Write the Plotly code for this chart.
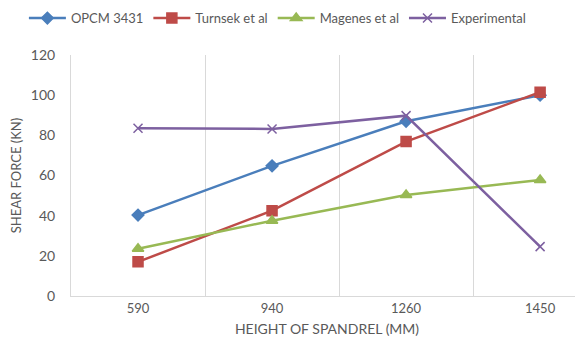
import plotly.graph_objects as go

categories = ["590", "940", "1260", "1450"]
opcm = [40.3, 64.8, 87.0, 100.0]
turnsek = [17.0, 42.5, 76.9, 101.5]
magenes = [23.5, 37.5, 50.3, 57.8]
experimental = [83.5, 83.2, 89.8, 24.6]

series = [
    ("OPCM 3431", opcm, "#4a7ebb", "diamond", 9),
    ("Turnsek et al", turnsek, "#be4b48", "square", 10),
    ("Magenes et al", magenes, "#98b954", "triangle-up", 10),
    ("Experimental", experimental, "#7d60a0", "x-thin-open", 9),
]

fig = go.Figure()
for name, vals, color, sym, size in series:
    fig.add_trace(go.Scatter(
        x=categories, y=vals, name=name, mode="lines+markers",
        line=dict(color=color, width=2.5),
        marker=dict(symbol=sym, size=size, color=color,
                    line=dict(color=color, width=1.5)),
    ))

font_family = "Lato, 'Open Sans', sans-serif"
# page body has an 8px margin; figure is sized so the picture lines up
fig.update_layout(
    width=575, height=339,
    margin=dict(l=63, r=0, t=47, b=51, autoexpand=False),
    paper_bgcolor="white", plot_bgcolor="white",
    font=dict(family=font_family, color="#595959", size=12),
    showlegend=True,
    legend=dict(orientation="h", x=-0.092, xanchor="left", y=1.153, yanchor="middle",
                font=dict(size=13, color="#595959"), itemwidth=37,
                traceorder="normal"),
    xaxis=dict(
        type="category", range=[-0.5, 3.32], tickson="boundaries",
        showgrid=True, gridcolor="#d9d9d9", gridwidth=1,
        showline=True, linecolor="#d9d9d9", linewidth=1,
        ticks="", tickfont=dict(size=13, color="#595959"), automargin=False,
        title=dict(text="HEIGHT OF SPANDREL (MM)", font=dict(size=14, color="#595959"), standoff=9),
    ),
    yaxis=dict(
        range=[0, 120], dtick=20, showgrid=False, zeroline=False,
        showline=True, linecolor="#d9d9d9", linewidth=1, automargin=False,
        ticks="", tickfont=dict(size=14, color="#595959"), ticklabelstandoff=12,
        title=dict(text="SHEAR FORCE (KN)", font=dict(size=13, color="#595959"), standoff=8),
    ),
)

fig.write_html("out.html")
